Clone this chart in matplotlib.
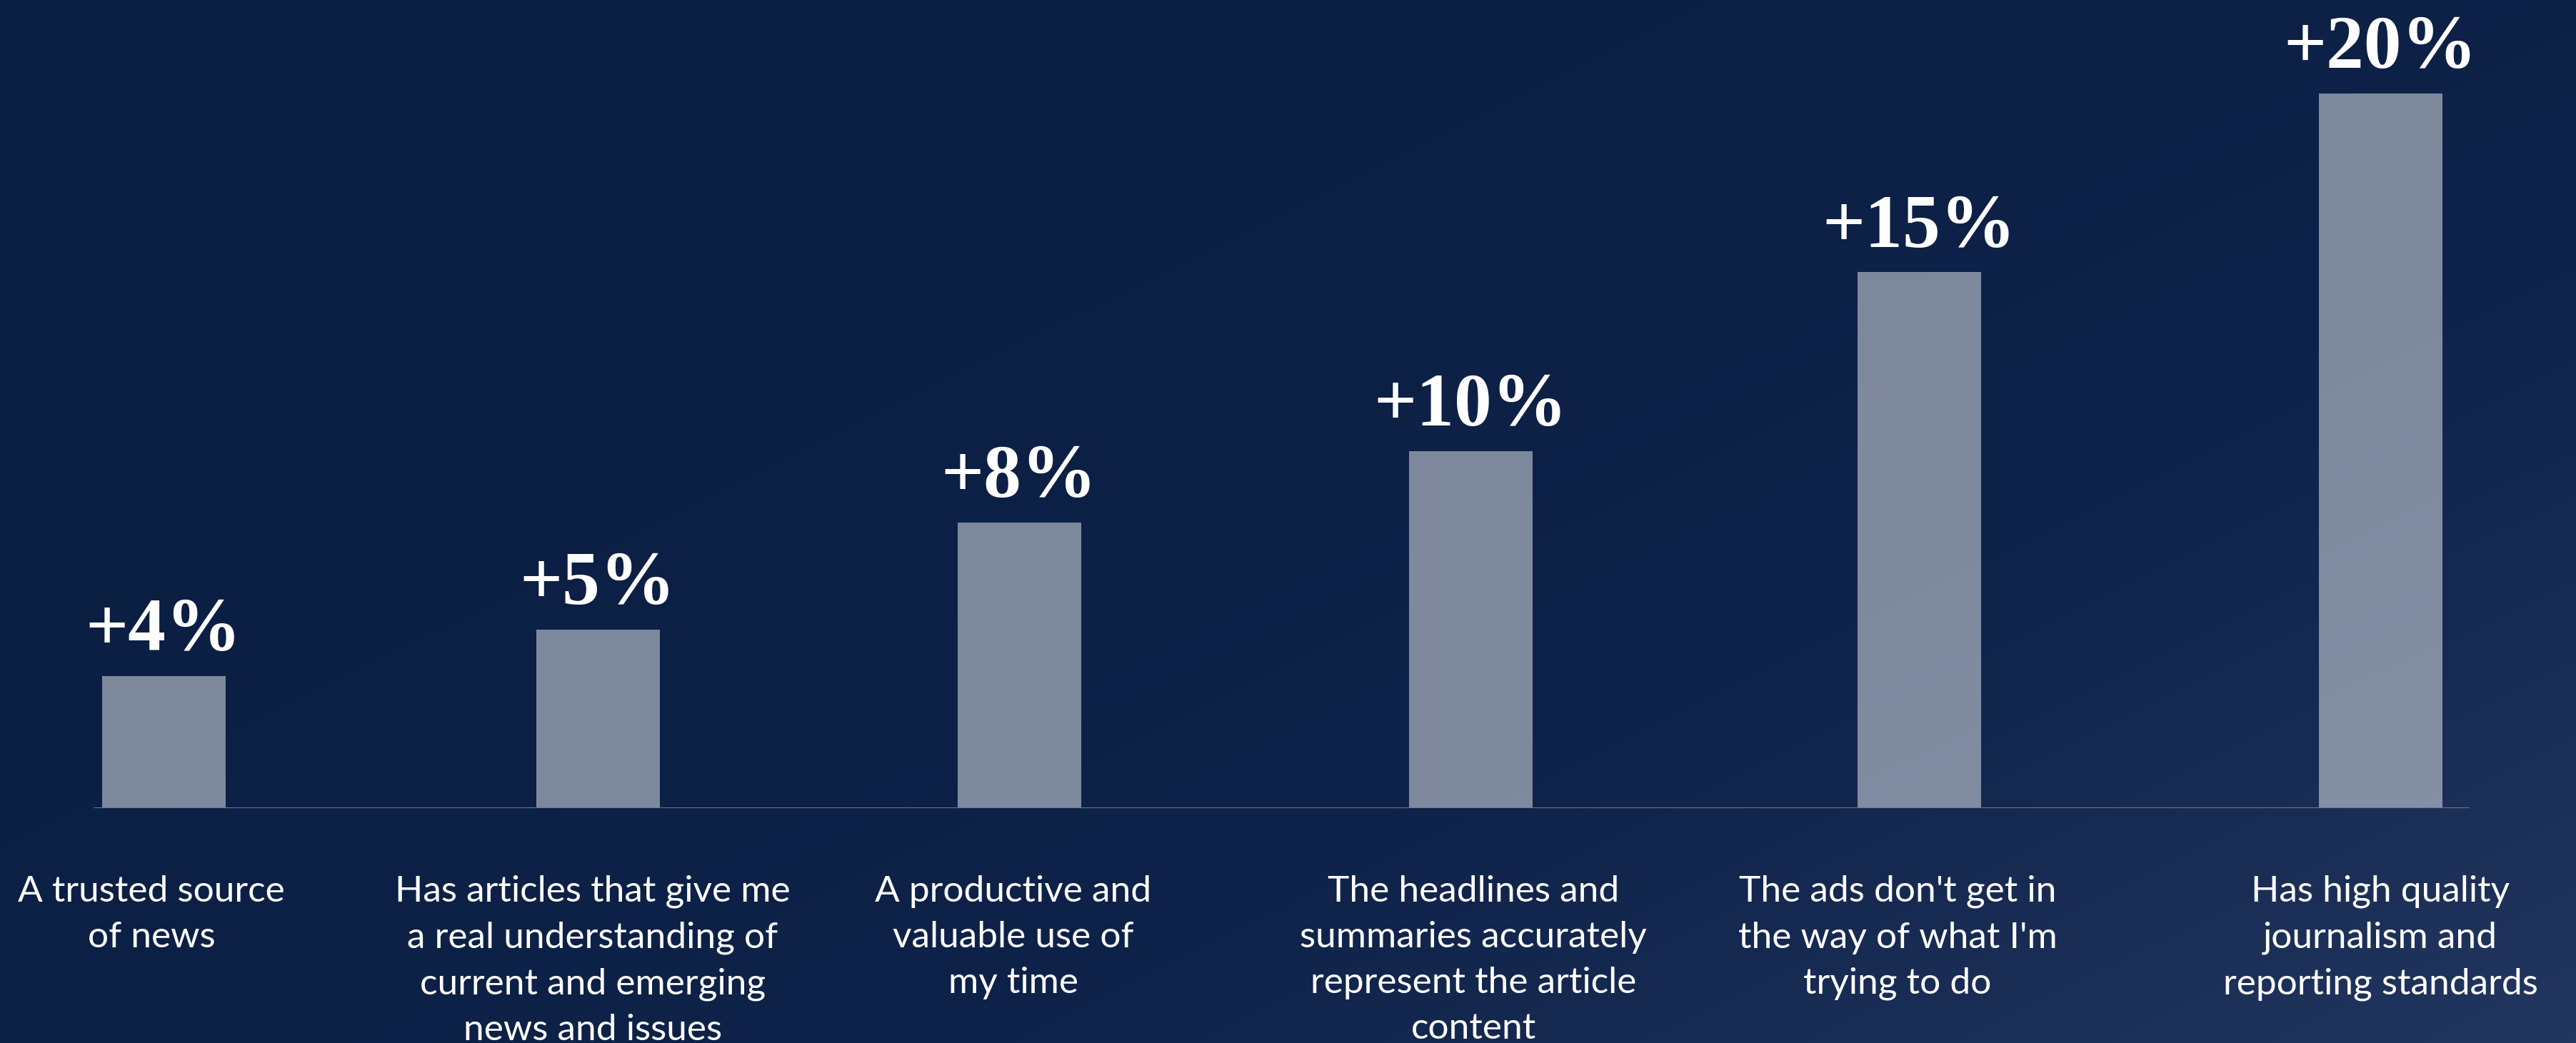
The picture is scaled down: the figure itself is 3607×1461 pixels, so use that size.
import numpy as np
import matplotlib
matplotlib.use("Agg")
import matplotlib.pyplot as plt
from matplotlib.colors import LinearSegmentedColormap

# ---- data ----
categories = [
    "A trusted source\nof news",
    "Has articles that give me\na real understanding of\ncurrent and emerging\nnews and issues",
    "A productive and\nvaluable use of\nmy time",
    "The headlines and\nsummaries accurately\nrepresent the article\ncontent",
    "The ads don't get in\nthe way of what I'm\ntrying to do",
    "Has high quality\njournalism and\nreporting standards",
]
values = [3.7, 5, 8, 10, 15, 20]
value_labels = ["+4%", "+5%", "+8%", "+10%", "+15%", "+20%"]

# ---- layout (pixels) ----
W, H = 3607, 1461
DPI = 100
bar_x = [229, 837, 1427, 2059, 2687, 3333]
label_x = [212, 830, 1419, 2063, 2657, 3333]
bar_w = 173
base_px = 1132          # baseline from top
top_px = 131            # y=20 from top

fig = plt.figure(figsize=(W / DPI, H / DPI), dpi=DPI)

# background gradient
bg = fig.add_axes([0, 0, 1, 1], zorder=0)
yy, xx = np.mgrid[0:1:300j, 0:1:700j]
t = np.clip(0.55 * xx + 0.45 * yy, 0, 1)
t = t ** 1.6
cmap = LinearSegmentedColormap.from_list("bg", ["#0a1e42", "#0f2249", "#23365f"])
bg.imshow(t, cmap=cmap, aspect="auto", extent=[0, 1, 1, 0], interpolation="bilinear")
bg.set_axis_off()

# main axes
bottom = (H - base_px) / H
height = (base_px - top_px) / H
ax = fig.add_axes([0, bottom, 1, height], zorder=1)
ax.patch.set_alpha(0)
ax.set_xlim(0, W)
ax.set_ylim(0, 20)
ax.set_axis_off()

ax.bar(bar_x, values, width=bar_w, color="white", alpha=0.47, linewidth=0, zorder=2)
ax.hlines(0, 131, 3458, color="#6a7896", linewidth=2.2, zorder=3)

for x, v, lab in zip(bar_x, values, value_labels):
    ax.annotate(lab, (x, v), xytext=(0, 9), textcoords="offset points",
                ha="center", va="bottom", color="white",
                fontsize=76, fontweight="bold", family="Liberation Serif",
                annotation_clip=False)

for x, c in zip(label_x, categories):
    fig.text(x / W, 1 - 1226 / H, c, ha="center", va="top", color="white",
             fontsize=37, family="Lato", linespacing=1.49)

fig.savefig("out.png", dpi=DPI)
